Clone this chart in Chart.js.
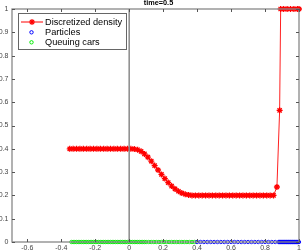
<!DOCTYPE html>
<html>
<head>
<meta charset="utf-8">
<script src="https://cdn.jsdelivr.net/npm/chart.js@4/dist/chart.umd.min.js"></script>
<style>
  body { margin: 0; background: #fff; }
  canvas { display: block; }
</style>
</head>
<body>
<canvas id="myChart" width="307" height="252"></canvas>
<script>
// discretized density (x, rho)
const densX = [-0.35, -0.33, -0.31, -0.29, -0.27, -0.25, -0.23, -0.21, -0.19, -0.17,
  -0.15, -0.13, -0.11, -0.09, -0.07, -0.05, -0.03, -0.01, 0.01,
  0.03, 0.05, 0.07, 0.09, 0.11, 0.13, 0.15, 0.17, 0.19, 0.21, 0.23, 0.25, 0.27, 0.29,
  0.31, 0.33, 0.35, 0.37,
  0.39, 0.41, 0.43, 0.45, 0.47, 0.49, 0.51, 0.53, 0.55, 0.57, 0.59, 0.61, 0.63, 0.65,
  0.67, 0.69, 0.71, 0.73, 0.75, 0.77, 0.79, 0.81, 0.83, 0.85,
  0.87, 0.886, 0.892, 0.91, 0.93, 0.95, 0.97, 0.99, 1.0];
const densY = [0.4, 0.4, 0.4, 0.4, 0.4, 0.4, 0.4, 0.4, 0.4, 0.4,
  0.4, 0.4, 0.4, 0.4, 0.4, 0.4, 0.4, 0.4, 0.4,
  0.399, 0.396, 0.389, 0.378, 0.364, 0.347, 0.328, 0.309, 0.290, 0.272, 0.255, 0.240, 0.228, 0.218,
  0.210, 0.205, 0.202, 0.200,
  0.2, 0.2, 0.2, 0.2, 0.2, 0.2, 0.2, 0.2, 0.2, 0.2, 0.2, 0.2, 0.2, 0.2,
  0.2, 0.2, 0.2, 0.2, 0.2, 0.2, 0.2, 0.2, 0.2, 0.2,
  0.236, 0.565, 1, 1, 1, 1, 1, 1, 1];

// particle positions (on the road, y = 0)
const particleX = [0.40, 0.42, 0.44, 0.46, 0.48, 0.50, 0.52, 0.54, 0.56, 0.58, 0.60, 0.62,
  0.64, 0.66, 0.68, 0.70, 0.72, 0.74, 0.76, 0.78, 0.80, 0.82, 0.84, 0.86, 0.88,
  0.884, 0.888, 0.892, 0.896, 0.9, 0.904, 0.908, 0.912, 0.916, 0.92, 0.924, 0.928,
  0.932, 0.936, 0.94, 0.944, 0.948, 0.952, 0.956, 0.96, 0.964, 0.968, 0.972, 0.976,
  0.98, 0.984, 0.988, 0.992, 0.996, 1.0];

// queuing cars (y = 0)
const queueX = [-0.34, -0.33, -0.32, -0.31, -0.30, -0.29, -0.28, -0.27, -0.26, -0.25,
  -0.24, -0.23, -0.22, -0.21, -0.20, -0.19, -0.18, -0.17, -0.16, -0.15, -0.14, -0.13,
  -0.12, -0.11, -0.10, -0.09, -0.08, -0.07, -0.06, -0.05, -0.04, -0.03, -0.02, -0.01,
  0, 0.01, 0.02, 0.03, 0.04, 0.05, 0.06, 0.07, 0.08, 0.09, 0.10,
  0.115, 0.13, 0.145, 0.16, 0.175, 0.19, 0.205, 0.22, 0.235, 0.25, 0.265, 0.28,
  0.295, 0.31, 0.325, 0.34, 0.355, 0.37, 0.385];

const xTicks = [-0.6, -0.4, -0.2, 0, 0.2, 0.4, 0.6, 0.8, 1];
const yTicks = [0, 0.1, 0.2, 0.3, 0.4, 0.5, 0.6, 0.7, 0.8, 0.9, 1];

const titleText = "time=0.5";
const legendLabels = ["Discretized density", "Particles", "Queuing cars"];

const axisColor = "#888";

function fmt(v) {
  return String(Math.round(v * 10) / 10);
}

// box, inward ticks, x=0 line, legend and title
const framePlugin = {
  id: "frame",
  afterDatasetsDraw(chart) {
    const ctx = chart.ctx;
    const a = chart.chartArea;
    const x0 = chart.scales.x.getPixelForValue(0);
    ctx.save();
    ctx.strokeStyle = "#8a8a8a";
    ctx.lineWidth = 1.5;
    ctx.beginPath();
    ctx.moveTo(x0, a.top);
    ctx.lineTo(x0, a.bottom);
    ctx.stroke();
    ctx.restore();
  },
  afterDraw(chart) {
    const ctx = chart.ctx;
    const a = chart.chartArea;
    const sx = chart.scales.x, sy = chart.scales.y;
    ctx.save();
    ctx.strokeStyle = axisColor;
    ctx.lineWidth = 1.3;
    ctx.strokeRect(a.left, a.top, a.right - a.left, a.bottom - a.top);

    ctx.lineWidth = 1;
    ctx.strokeStyle = "#555";
    ctx.beginPath();
    xTicks.forEach(v => {
      const p = Math.round(sx.getPixelForValue(v)) + 0.5;
      ctx.moveTo(p, a.bottom); ctx.lineTo(p, a.bottom - 3);
      ctx.moveTo(p, a.top); ctx.lineTo(p, a.top + 3);
    });
    yTicks.forEach(v => {
      const p = Math.round(sy.getPixelForValue(v)) + 0.5;
      ctx.moveTo(a.left, p); ctx.lineTo(a.left + 3, p);
      ctx.moveTo(a.right, p); ctx.lineTo(a.right - 3, p);
    });
    ctx.stroke();

    // legend
    const lx = 18.5, ly = 13.5, lw = 108, lh = 36;
    ctx.fillStyle = "#fff";
    ctx.fillRect(lx, ly, lw, lh);
    ctx.strokeStyle = "#666";
    ctx.lineWidth = 1;
    ctx.strokeRect(lx, ly, lw, lh);
    const rows = [22, 32.3, 42.3];
    ctx.font = "9.2px 'Liberation Sans', Arial, sans-serif";
    ctx.textBaseline = "middle";
    ctx.textAlign = "left";
    // density sample
    ctx.strokeStyle = "#ff0000";
    ctx.beginPath();
    ctx.moveTo(21, rows[0]); ctx.lineTo(43, rows[0]);
    ctx.stroke();
    ctx.lineWidth = 1.2;
    Chart.helpers.drawPoint(ctx, { pointStyle: "star", radius: 3, borderWidth: 1.2 }, 32, rows[0]);
    ctx.lineWidth = 1;
    ctx.strokeStyle = "#0000ff";
    ctx.beginPath(); ctx.arc(31.5, rows[1], 1.7, 0, Math.PI * 2); ctx.stroke();
    ctx.strokeStyle = "#00ee00";
    ctx.beginPath(); ctx.arc(31.5, rows[2], 1.7, 0, Math.PI * 2); ctx.stroke();
    ctx.fillStyle = "#000";
    legendLabels.forEach((t, i) => ctx.fillText(t, 45, rows[i]));

    // title
    ctx.font = "bold 7.3px 'Liberation Sans', Arial, sans-serif";
    ctx.textAlign = "center";
    ctx.fillText(titleText, 158.5, 3);
    ctx.restore();
  }
};

const ctx = document.getElementById("myChart").getContext("2d");
const chart = new Chart(ctx, {
  type: "scatter",
  data: {
    datasets: [{
      label: legendLabels[0],
      data: densX.map((x, i) => ({ x: x, y: densY[i] })),
      showLine: true,
      borderColor: "#ff2020",
      borderWidth: 1,
      pointStyle: "star",
      pointRadius: 3,
      pointBorderColor: "#ff0000",
      pointBorderWidth: 1.3,
      clip: false
    }, {
      label: legendLabels[1],
      data: particleX.map(x => ({ x: x, y: 0 })),
      pointStyle: "circle",
      pointRadius: 1.7,
      pointBorderColor: "#0000ff",
      pointBackgroundColor: "rgba(0,0,0,0)",
      pointBorderWidth: 0.9,
      clip: false
    }, {
      label: legendLabels[2],
      data: queueX.map(x => ({ x: x, y: 0 })),
      pointStyle: "circle",
      pointRadius: 1.7,
      pointBorderColor: "#00ee00",
      pointBackgroundColor: "rgba(0,0,0,0)",
      pointBorderWidth: 0.9,
      clip: false
    }]
  },
  options: {
    responsive: false,
    animation: false,
    devicePixelRatio: 1,
    layout: { padding: { top: 9, right: 8, left: 0, bottom: 0 } },
    plugins: { legend: { display: false }, tooltip: { enabled: false }, title: { display: false } },
    scales: {
      x: {
        type: "linear",
        min: -0.69,
        max: 1,
        afterBuildTicks: s => { s.ticks = xTicks.map(v => ({ value: v })); },
        afterFit: s => { s.height = 10; },
        grid: { display: false, drawTicks: false },
        border: { display: false },
        ticks: {
          autoSkip: false,
          maxRotation: 0,
          padding: 1.5,
          color: "#444",
          font: { size: 7, family: "'Liberation Sans', Arial, sans-serif" },
          callback: v => fmt(v)
        }
      },
      y: {
        type: "linear",
        min: 0,
        max: 1,
        afterBuildTicks: s => { s.ticks = yTicks.map(v => ({ value: v })); },
        afterFit: s => { s.width = 12; },
        grid: { display: false, drawTicks: false },
        border: { display: false },
        ticks: {
          autoSkip: false,
          padding: 3.5,
          color: "#444",
          font: { size: 7, family: "'Liberation Sans', Arial, sans-serif" },
          callback: v => fmt(v)
        }
      }
    }
  },
  plugins: [framePlugin]
});
</script>
</body>
</html>
